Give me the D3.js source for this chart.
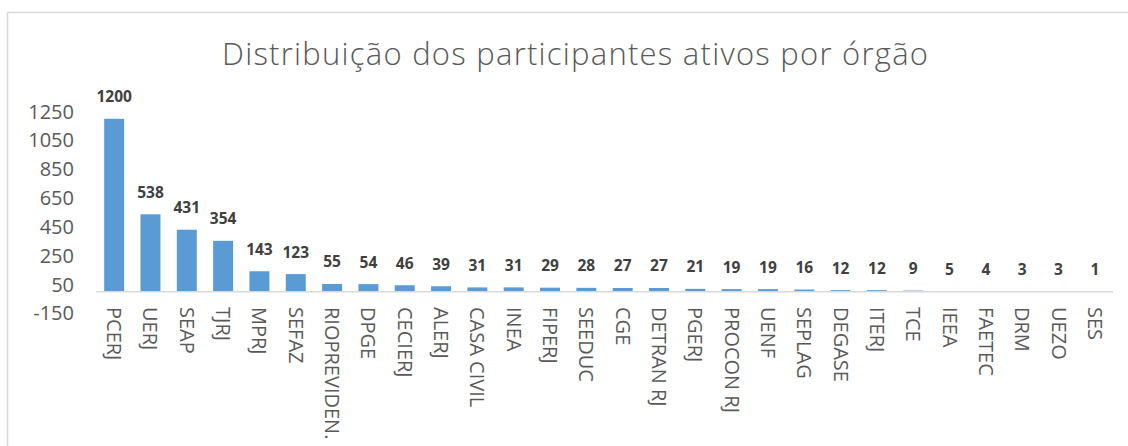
<!DOCTYPE html>
<html>
<head>
<meta charset="utf-8">
<script src="https://cdn.jsdelivr.net/npm/d3@7"></script>
<style>
  body { margin: 0; background: #fff; }
  text { font-family: "Open Sans", "Noto Sans", sans-serif; }
</style>
</head>
<body>
<svg id="chart" width="1128" height="446"></svg>
<script>
  // data
  var orgaos = ["PCERJ", "UERJ", "SEAP", "TJRJ", "MPRJ", "SEFAZ", "RIOPREVIDEN.", "DPGE",
    "CECIERJ", "ALERJ", "CASA CIVIL", "INEA", "FIPERJ", "SEEDUC", "CGE", "DETRAN RJ",
    "PGERJ", "PROCON RJ", "UENF", "SEPLAG", "DEGASE", "ITERJ", "TCE", "IEEA", "FAETEC",
    "DRM", "UEZO", "SES"];
  var participantes = [1200, 538, 431, 354, 143, 123, 55, 54, 46, 39, 31, 31, 29, 28, 27, 27,
    21, 19, 19, 16, 12, 12, 9, 5, 4, 3, 3, 1];
  var yTicks = [-150, 50, 250, 450, 650, 850, 1050, 1250];
  var titulo = "Distribuição dos participantes ativos por órgão";

  var svg = d3.select("#chart");

  // chart frame
  svg.append("rect")
    .attr("x", 7.5).attr("y", 12.5)
    .attr("width", 1140).attr("height", 460)
    .attr("fill", "none")
    .attr("stroke", "#d9d9d9")
    .attr("stroke-width", 1.5);

  svg.append("text")
    .attr("x", 575).attr("y", 65)
    .attr("text-anchor", "middle")
    .attr("font-size", 31)
    .attr("font-weight", 300)
    .attr("textLength", 706)
    .attr("lengthAdjust", "spacing")
    .attr("fill", "#595959")
    .text(titulo);

  var x = d3.scaleBand()
    .domain(orgaos)
    .range([96, 1113])
    .paddingInner(0.45)
    .paddingOuter(0.225);

  var y = d3.scaleLinear()
    .domain([-150, 1250])
    .range([313.5, 111.6]);

  // y axis: labels only
  var yAxis = svg.append("g")
    .attr("transform", "translate(74,0)")
    .call(d3.axisLeft(y).tickValues(yTicks).tickSize(0).tickPadding(0)
      .tickFormat(function (d) { return String(d); }));
  yAxis.select(".domain").remove();
  yAxis.selectAll("text")
    .attr("font-size", 20)
    .attr("fill", "#595959")
    .style("font-family", "'Open Sans', sans-serif");

  // bars
  svg.selectAll("rect.bar")
    .data(participantes)
    .enter()
    .append("rect")
    .attr("class", "bar")
    .attr("x", function (d, i) { return x(orgaos[i]); })
    .attr("width", x.bandwidth())
    .attr("y", function (d) { return y(d); })
    .attr("height", function (d) { return y(0) - y(d); })
    .attr("fill", "#5b9bd5");

  // category axis line at zero
  svg.append("line")
    .attr("x1", 96).attr("x2", 1113)
    .attr("y1", y(0)).attr("y2", y(0))
    .attr("stroke", "#d9d9d9")
    .attr("stroke-width", 1.5);

  // value labels
  svg.selectAll("text.val")
    .data(participantes)
    .enter()
    .append("text")
    .attr("class", "val")
    .attr("x", function (d, i) { return x(orgaos[i]) + x.bandwidth() / 2; })
    .attr("y", function (d) { return y(d) - 16.5; })
    .attr("text-anchor", "middle")
    .attr("font-size", 15.5)
    .attr("font-weight", "bold")
    .attr("fill", "#404040")
    .text(function (d) { return d; });

  // rotated category labels
  svg.selectAll("text.cat")
    .data(orgaos)
    .enter()
    .append("text")
    .attr("class", "cat")
    .attr("transform", function (d) {
      return "translate(" + (x(d) + x.bandwidth() / 2) + ",307) rotate(90)";
    })
    .attr("dy", "0.35em")
    .attr("font-size", 20)
    .attr("fill", "#595959")
    .text(function (d) { return d; });
</script>
</body>
</html>
